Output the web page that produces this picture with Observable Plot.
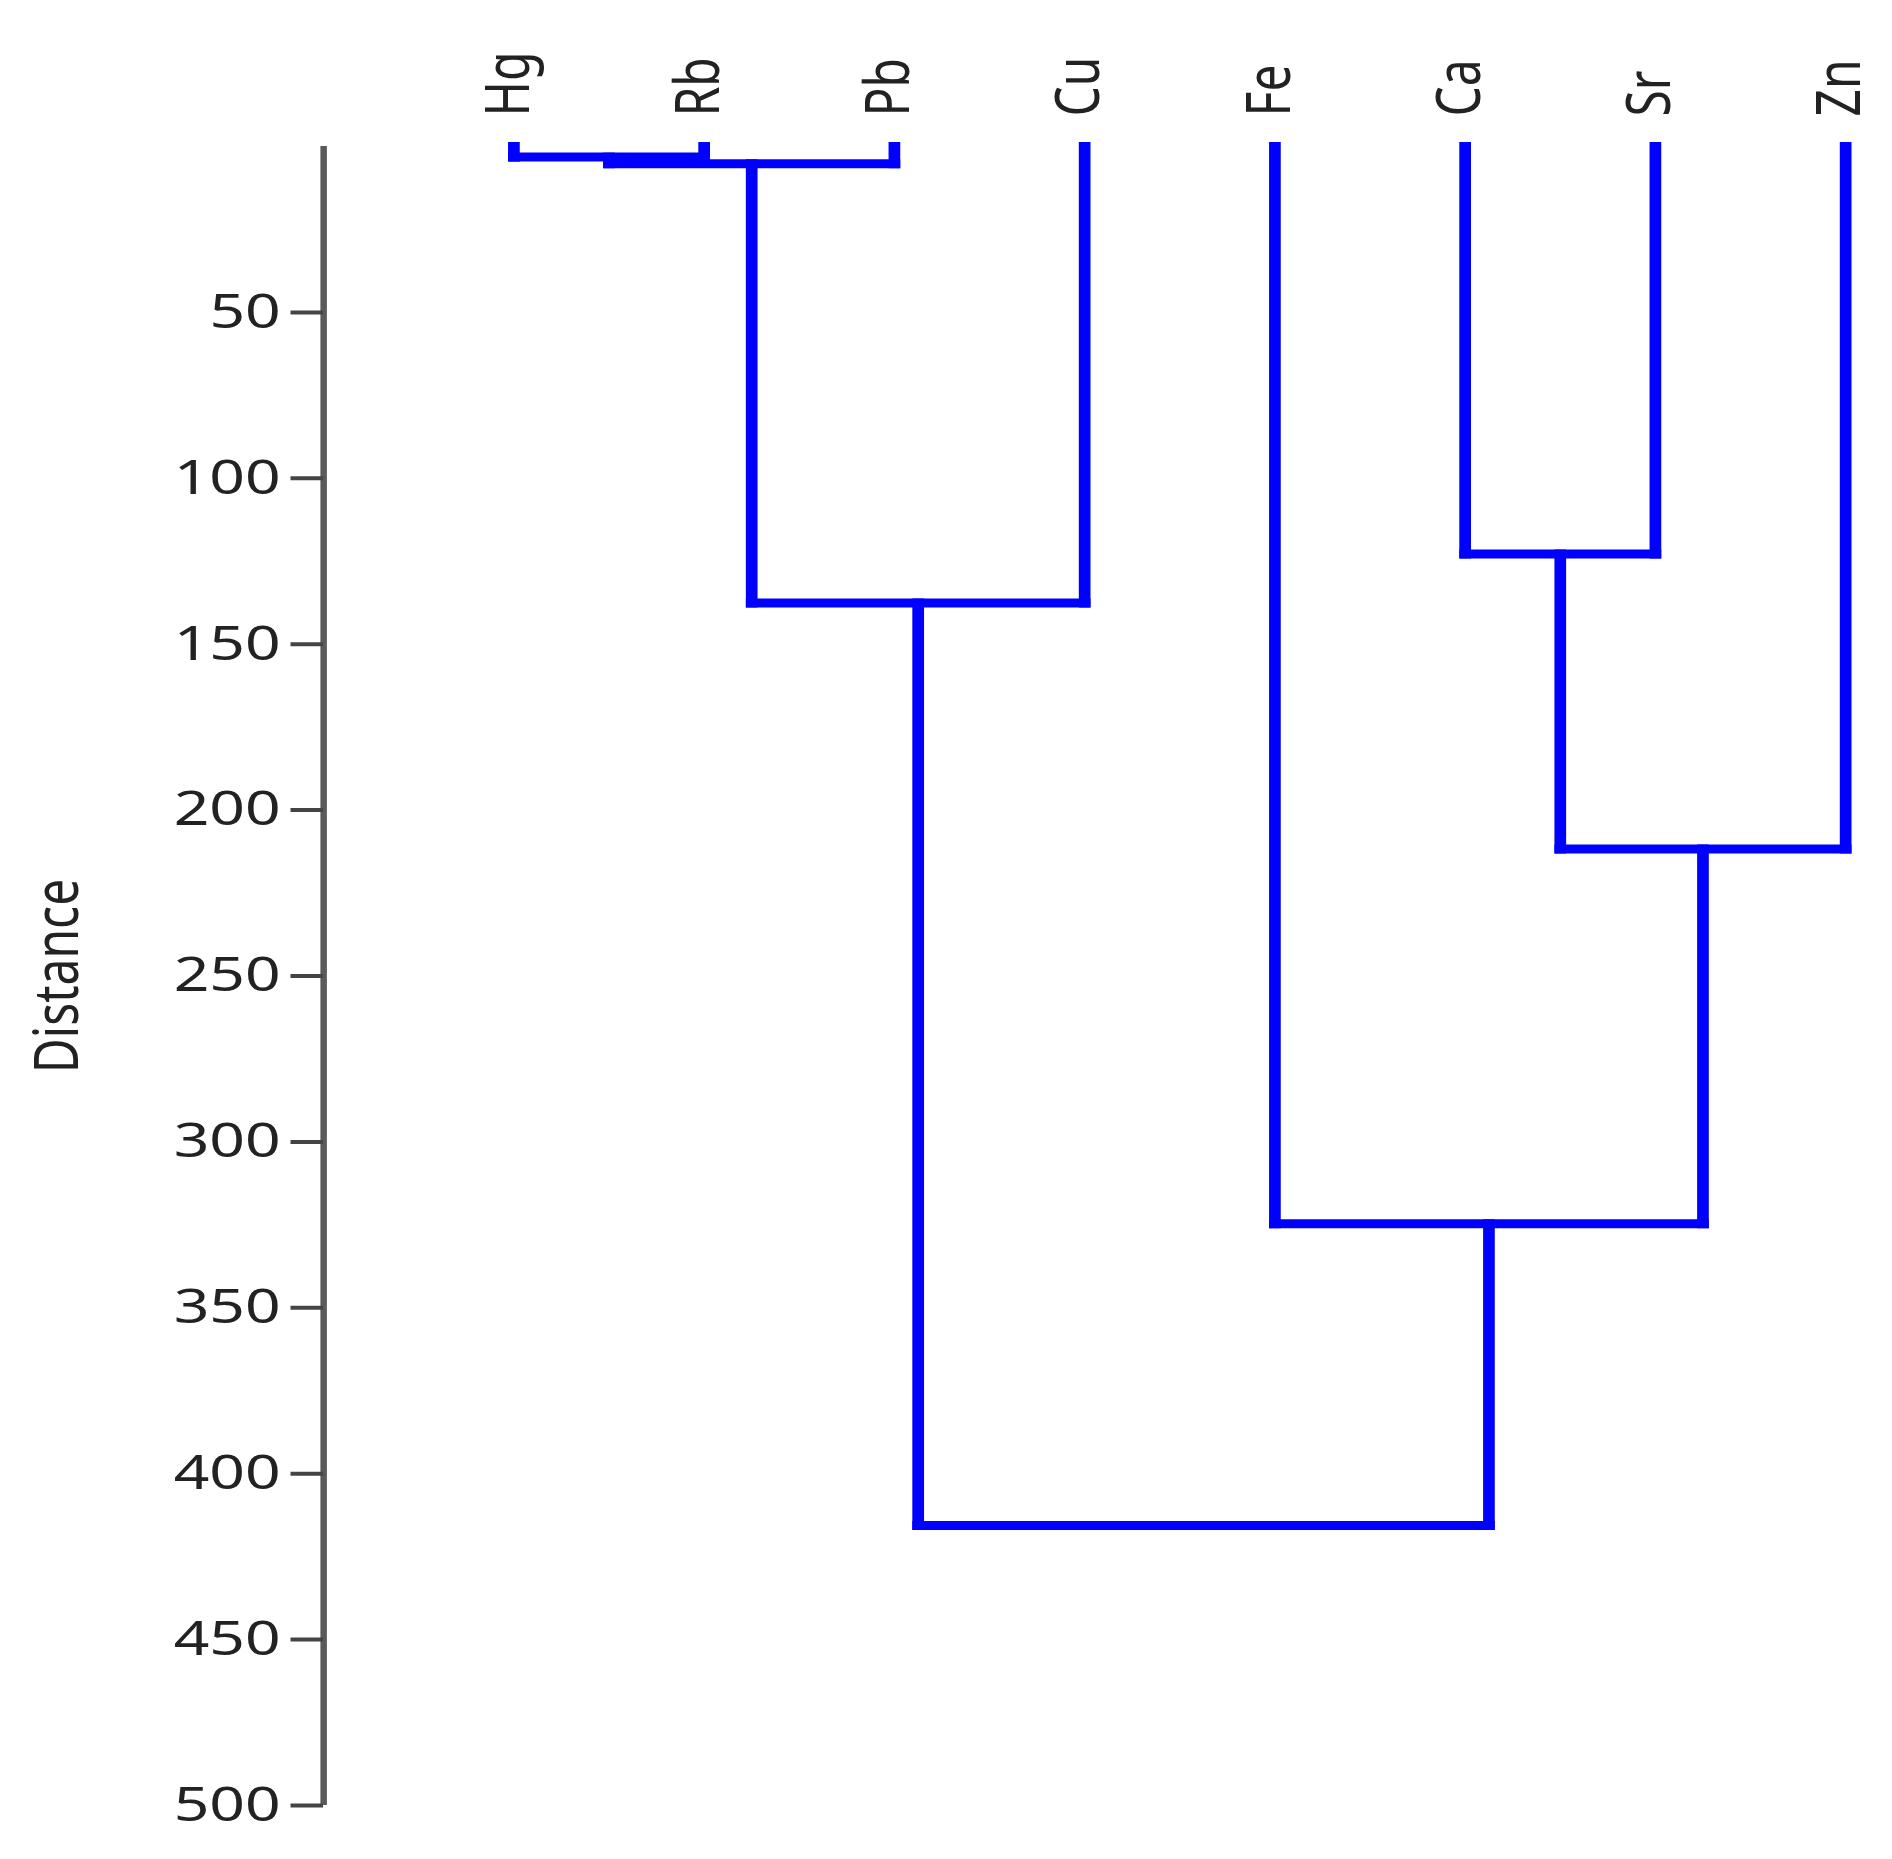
<!DOCTYPE html>
<html>
<head>
<meta charset="utf-8">
<script src="https://cdn.jsdelivr.net/npm/d3@7"></script>
<script src="https://cdn.jsdelivr.net/npm/@observablehq/plot@0.6"></script>
<style>
  html, body { margin: 0; padding: 0; background: #fff; }
</style>
</head>
<body>
<div id="chart"></div>
<script>
// Leaves in display order
const leaves = ["Hg", "Rb", "Pb", "Cu", "Fe", "Ca", "Sr", "Zn"];
// Linkage: node 8+k joins mergeA[k] and mergeB[k] at mergeHeight[k]
const mergeA = [0, 8, 9, 5, 11, 4, 10];
const mergeB = [1, 2, 3, 6, 7, 12, 13];
const mergeHeight = [3.2, 5.2, 137.6, 122.8, 211.7, 324.7, 415.6];
// Axis ticks
const yTicks = [50, 100, 150, 200, 250, 300, 350, 400, 450, 500];
const axisTitle = "Distance";

// Build dendrogram segments in data units (leaf index, distance)
const pos = leaves.map((d, i) => i);
const hgt = leaves.map(() => 0);
const segments = [];
mergeA.forEach((a, k) => {
  const b = mergeB[k], H = mergeHeight[k];
  segments.push({x1: pos[a], y1: hgt[a], x2: pos[a], y2: H});
  segments.push({x1: pos[b], y1: hgt[b], x2: pos[b], y2: H});
  segments.push({x1: pos[a], y1: H, x2: pos[b], y2: H});
  pos.push((pos[a] + pos[b]) / 2);
  hgt.push(H);
});

const SX = 1.3;               // horizontal stretch of the reference
const FULLW = 1892, FULLH = 1859;
const W = FULLW / SX;

const svg = Plot.plot({
  width: W,
  height: FULLH,
  marginLeft: 323 / SX,
  marginRight: 47 / SX,
  marginTop: 146,
  marginBottom: 54,
  style: {fontFamily: "'Noto Sans', 'Open Sans', sans-serif", background: "white", color: "#222"},
  x: {domain: [-1, 7], axis: null},
  y: {domain: [0, 500], reverse: true},
  marks: [
    Plot.ruleX([-1], {y1: 0, y2: 500, stroke: "#5a5a5a", strokeWidth: 5}),
    Plot.axisY({ticks: yTicks, tickSize: 25, tickPadding: 8, fontSize: 48, stroke: "#444", strokeWidth: 4, fill: "#222", label: null}),
    Plot.link(segments, {x1: "x1", y1: "y1", x2: "x2", y2: "y2", stroke: "#0000ff", strokeWidth: 9, strokeLinecap: "square"}),
    Plot.text(leaves, {x: (d, i) => i, y: () => 0, text: d => d, rotate: -90, textAnchor: "start", dx: -4, dy: -30, fontSize: 48, fill: "#222"}),
    Plot.text([axisTitle], {x: () => -1, y: () => 250, text: d => d, rotate: -90, textAnchor: "middle", dx: -204, fontSize: 48, fill: "#222"})
  ]
});

svg.setAttribute("width", FULLW);
svg.setAttribute("height", FULLH);
svg.setAttribute("preserveAspectRatio", "none");
svg.style.width = FULLW + "px";
svg.style.height = FULLH + "px";
svg.style.maxWidth = "none";
document.getElementById("chart").appendChild(svg);
</script>
</body>
</html>
